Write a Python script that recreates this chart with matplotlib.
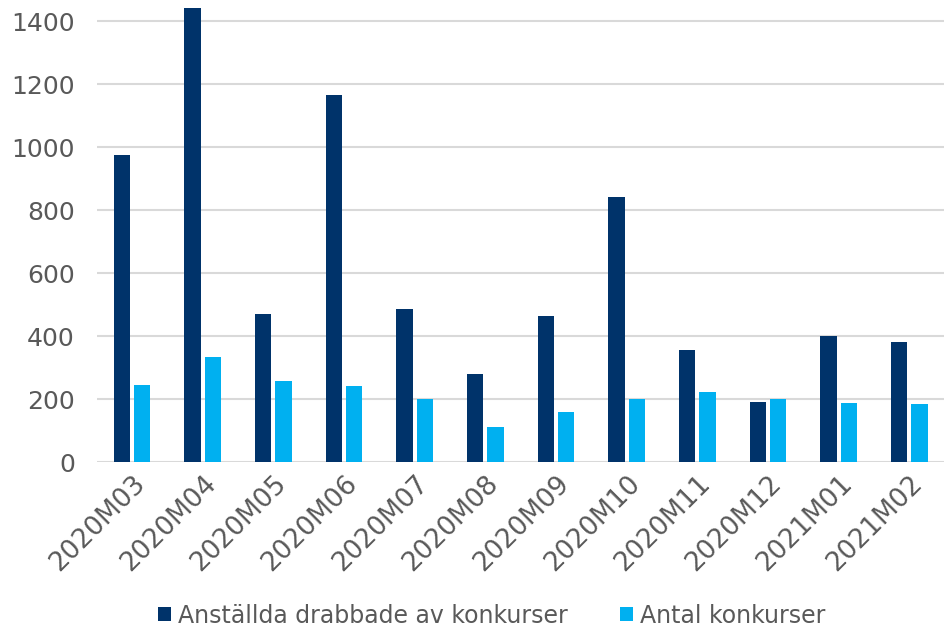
import matplotlib.pyplot as plt
import numpy as np

months = ['2020M03', '2020M04', '2020M05', '2020M06', '2020M07', '2020M08',
          '2020M09', '2020M10', '2020M11', '2020M12', '2021M01', '2021M02']
anstallda = [975, 1441, 470, 1165, 486, 279, 463, 841, 356, 190, 400, 381]
konkurser = [244, 333, 257, 241, 200, 111, 159, 200, 222, 200, 187, 184]

dark = '#00336A'
light = '#00B0F0'
grey = '#595959'

fig = plt.figure(figsize=(9.45, 6.27), dpi=100)
ax = fig.add_axes([97/945, 165/627, 1 - 97/945, 462/627])

x = np.arange(len(months))
w = 0.23
ax.bar(x - 0.15, anstallda, w, color=dark, label='Anställda drabbade av konkurser', zorder=3)
ax.bar(x + 0.14, konkurser, w, color=light, label='Antal konkurser', zorder=3)

ax.set_xlim(-0.5, len(months) - 0.5)
ax.set_ylim(0, 1467)
ax.set_yticks(range(0, 1401, 200))
ax.yaxis.grid(True, color='#D9D9D9', lw=1.5, zorder=0)
ax.set_axisbelow(True)
for s in ax.spines.values():
    s.set_visible(False)
ax.tick_params(length=0, colors=grey)
ax.tick_params(axis='y', labelsize=18, pad=16)
ax.tick_params(axis='x', labelsize=19, pad=6)
ax.set_xticks(x)
ax.set_xticklabels(months, rotation=45, ha='right', rotation_mode='anchor')

fig.legend(loc='lower center', ncol=2, bbox_to_anchor=(0.52, -0.035), frameon=False,
           fontsize=17, labelcolor=grey, handlelength=0.55, handleheight=0.55,
           handletextpad=0.3, columnspacing=2.2)

fig.savefig('out.png')
